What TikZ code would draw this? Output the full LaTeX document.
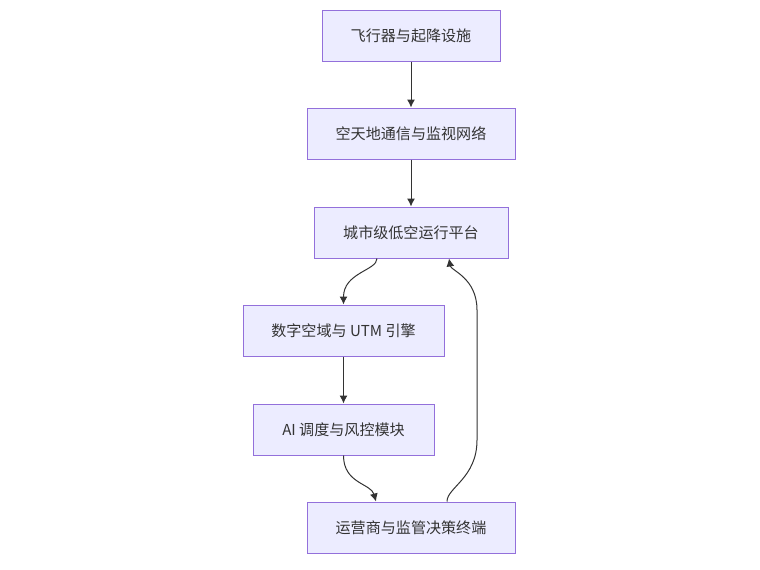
\documentclass[tikz,border=0pt]{standalone}
\usepackage{fontspec}
\usepackage{tikz}
\usetikzlibrary{calc, arrows.meta}
\newfontfamily\cjk{Noto Sans CJK SC}
\definecolor{boxfill}{HTML}{ECECFF}
\definecolor{boxline}{HTML}{9370DB}
\definecolor{ink}{HTML}{333333}

\begin{document}
\begin{tikzpicture}[x=0.75pt, y=-0.75pt, >=latex,
	box/.style={draw=boxline, fill=boxfill, line width=0.75pt, text=ink,
		font=\cjk\fontsize{11.3}{13}\selectfont, inner sep=0pt},
	edge/.style={-{Latex[length=6pt, width=6pt]}, ink, line width=0.75pt}]
	\useasboundingbox (0, 0) rectangle (760, 569);

	\node[box, minimum width=178*0.75pt, minimum height=51*0.75pt] (fly) at (411, 35.5) {飞行器与起降设施};
	\node[box, minimum width=208*0.75pt, minimum height=51*0.75pt] (comm) at (411, 133.5) {空天地通信与监视网络};
	\node[box, minimum width=194*0.75pt, minimum height=51*0.75pt] (platform) at (411, 232.5) {城市级低空运行平台};
	\node[box, minimum width=201*0.75pt, minimum height=51*0.75pt] (utm) at (343.5, 330.5) {数字空域与 UTM 引擎};
	\node[box, minimum width=181*0.75pt, minimum height=51*0.75pt] (ai) at (343.5, 429.5) {AI 调度与风控模块};
	\node[box, minimum width=208*0.75pt, minimum height=51*0.75pt] (ops) at (411, 527.5) {运营商与监管决策终端};

	\draw[edge] (fly) -- (comm);
	\draw[edge] (comm) -- (platform);
	\draw[edge] ($(platform.south)+(-34, 0)$) .. controls ($(platform.south)+(-34, 12)$) and ($(utm.north)+(0, -32)$) .. (utm.north);
	\draw[edge] (utm) -- (ai);
	\draw[edge] (ai.south) .. controls ($(ai.south)+(0, 28)$) and ($(ops.north)+(-40, -18)$) .. ($(ops.north)+(-35, 0)$);

	% feedback loop back up to the platform
	\draw[edge] ($(ops.north)+(36, 0)$) .. controls ($(ops.north)+(36, -14)$) and (477, 478) .. (477, 440)
		-- (477, 310) .. controls (477, 278) and ($(platform.south)+(40, 12)$) .. ($(platform.south)+(38, 0)$);
\end{tikzpicture}
\end{document}
